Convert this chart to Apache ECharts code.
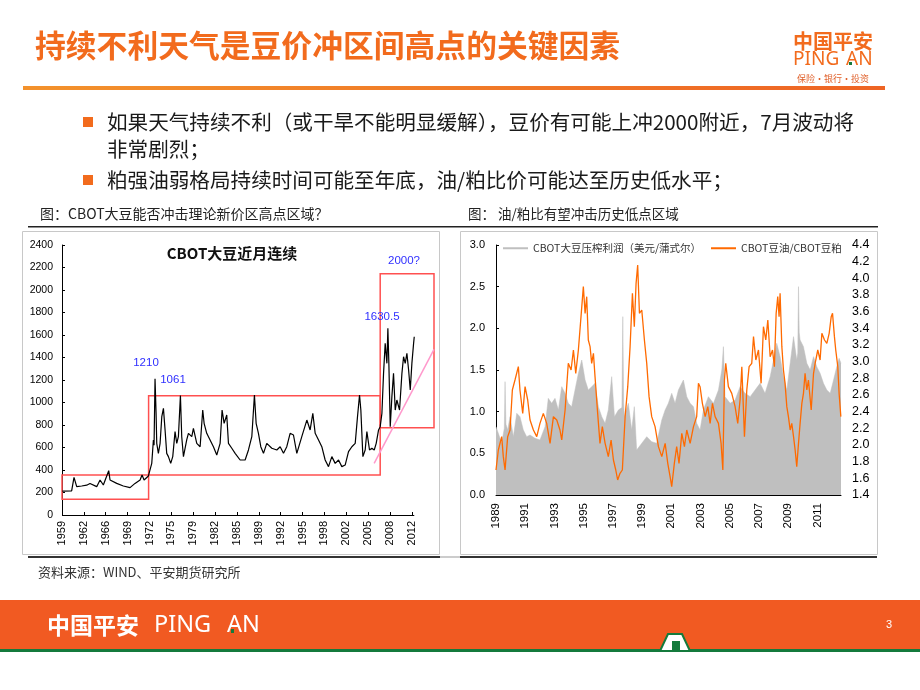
<!DOCTYPE html>
<html><head><meta charset="utf-8">
<script src="https://cdn.jsdelivr.net/npm/echarts@6/dist/echarts.min.js"></script>
<style>html,body{margin:0;padding:0;background:#fff}#c{width:920px;height:690px}</style>
</head><body><div id="c"></div>
<script>
// ---------- Left chart: CBOT soybean front-month (cents/bu) ----------
const leftTickLabels = ['1959','1962','1966','1969','1972','1975','1979','1982','1985','1989','1992','1995','1998','2002','2005','2008','2012'];
const leftYears = [1959.05,1960.47,1960.83,1961.24,1962.0,1962.76,1963.27,1964.29,1964.80,1965.30,1966.12,1966.32,1967.34,1968.35,1969.37,1970.13,1970.90,1971.20,1971.51,1972.17,1972.42,1972.68,1972.93,1973.03,1973.18,1973.34,1973.44,1973.69,1973.95,1974.21,1974.46,1974.71,1974.96,1975.22,1975.57,1975.88,1976.23,1976.49,1976.74,1977.05,1977.25,1977.51,1978.01,1978.27,1978.78,1979.03,1979.28,1979.54,1980.05,1980.45,1980.66,1981.06,1981.57,1982.08,1982.59,1983.10,1983.40,1983.71,1984.11,1984.37,1984.88,1985.39,1986.15,1986.91,1987.42,1987.93,1988.33,1988.59,1988.94,1989.30,1989.71,1990.21,1990.98,1991.74,1992.25,1992.76,1993.26,1993.77,1994.28,1994.79,1995.55,1996.32,1996.82,1997.23,1997.59,1998.10,1998.60,1999.11,1999.62,2000.13,2000.64,2001.15,2001.65,2002.16,2002.67,2003.18,2003.69,2004.04,2004.35,2004.55,2004.86,2005.21,2005.47,2005.87,2006.23,2006.59,2006.89,2007.25,2007.50,2007.76,2008.01,2008.26,2008.52,2008.67,2008.82,2009.03,2009.28,2009.53,2009.79,2010.04,2010.45,2010.81,2011.06,2011.31,2011.57,2011.83,2012.08,2012.33,2012.59,2012.69];
const leftPrices = [213,215,335,252,258,265,280,252,311,267,394,311,281,258,243,281,311,355,311,347,340,459,667,620,1210,904,637,548,637,874,948,756,548,519,459,519,741,637,696,1061,696,519,667,726,696,770,756,637,607,933,815,726,667,607,533,637,933,815,889,637,593,548,489,489,578,696,1067,815,726,607,548,637,593,578,607,548,607,726,711,548,696,844,756,904,726,667,607,489,430,519,459,489,430,444,563,607,637,874,1067,933,519,578,741,578,593,578,637,756,785,904,1259,1526,1348,1659,1348,785,1052,1259,933,1022,933,1259,1407,1348,1437,1289,1111,1348,1526,1585];
// annotation ranges [yearFrom, yearTo, priceLow, priceHigh]
const rangeBoxes = [[1959,1972.2,140,355],[1972.2,2007.5,355,1060],[2007.5,2015.7,776,2145]];
const trendLine = [[2006.58,459],[2015.7,1473]];
const peakNotes = ['1210','1061','1630.5','2000?'];

// ---------- Right chart ----------
const rightTickLabels = ['1989','1991','1993','1995','1997','1999','2001','2003','2005','2007','2009','2011'];
const marginYears = [1989.0,1989.16,1989.39,1989.57,1989.62,1989.68,1989.80,1989.96,1990.19,1990.42,1990.64,1990.87,1991.10,1991.33,1991.67,1992.01,1992.36,1992.58,1992.81,1993.04,1993.27,1993.50,1993.73,1993.95,1994.18,1994.41,1994.64,1994.87,1995.10,1995.32,1995.55,1995.78,1996.01,1996.24,1996.47,1996.69,1996.92,1997.11,1997.38,1997.62,1997.68,1997.74,1997.79,1998.06,1998.29,1998.47,1998.63,1998.98,1999.32,1999.66,2000.00,2000.35,2000.58,2000.80,2001.03,2001.26,2001.49,2001.83,2002.06,2002.29,2002.52,2002.74,2002.97,2003.20,2003.54,2003.89,2004.23,2004.46,2004.57,2004.68,2005.03,2005.37,2005.71,2006.05,2006.40,2006.74,2007.08,2007.42,2007.77,2008.00,2008.22,2008.45,2008.68,2008.91,2009.14,2009.37,2009.59,2009.66,2009.71,2009.76,2009.82,2010.05,2010.28,2010.51,2010.74,2010.96,2011.19,2011.42,2011.65,2011.88,2012.11,2012.33,2012.49,2012.62];
const marginValues = [0.82,0.74,0.62,0.80,1.36,0.85,0.78,0.94,0.70,0.98,0.94,0.78,0.70,0.72,0.68,0.66,0.82,1.16,1.10,1.16,1.02,1.30,1.22,1.10,1.06,1.26,1.46,1.62,1.38,1.26,1.30,1.34,1.06,0.94,0.86,1.02,1.42,0.94,1.02,1.05,2.14,1.10,0.94,1.10,0.78,1.06,0.54,0.62,0.70,0.64,0.62,0.90,1.02,1.10,1.22,1.10,1.26,1.38,1.18,1.10,1.06,0.86,0.78,1.02,1.18,1.10,1.26,1.50,1.78,1.18,1.10,1.14,1.30,1.22,1.18,1.26,1.34,1.22,1.42,1.62,1.82,1.66,1.42,1.26,1.58,1.90,1.62,1.70,2.50,1.95,1.86,1.78,1.58,1.50,1.66,1.54,1.46,1.34,1.26,1.22,1.38,1.54,1.64,1.58];
const ratioYears = [1989.0,1989.16,1989.39,1989.50,1989.62,1989.80,1989.96,1990.12,1990.30,1990.53,1990.64,1990.83,1990.99,1991.17,1991.33,1991.56,1991.79,1992.01,1992.24,1992.47,1992.70,1992.93,1993.16,1993.38,1993.50,1993.73,1993.95,1994.14,1994.30,1994.46,1994.64,1994.82,1994.98,1995.10,1995.21,1995.32,1995.44,1995.55,1995.67,1995.78,1995.96,1996.12,1996.28,1996.47,1996.69,1996.88,1997.04,1997.20,1997.33,1997.49,1997.65,1997.84,1998.02,1998.18,1998.34,1998.47,1998.59,1998.70,1998.82,1998.98,1999.16,1999.32,1999.48,1999.66,1999.89,2000.12,2000.35,2000.58,2000.76,2000.92,2001.03,2001.21,2001.37,2001.53,2001.72,2001.90,2002.06,2002.29,2002.52,2002.74,2002.86,2002.97,2003.13,2003.32,2003.50,2003.66,2003.82,2004.00,2004.23,2004.41,2004.53,2004.64,2004.73,2004.91,2005.14,2005.37,2005.55,2005.71,2005.83,2006.01,2006.17,2006.33,2006.51,2006.63,2006.79,2006.97,2007.15,2007.31,2007.47,2007.61,2007.77,2007.93,2008.06,2008.18,2008.29,2008.38,2008.45,2008.57,2008.68,2008.79,2008.91,2009.02,2009.14,2009.25,2009.37,2009.48,2009.59,2009.71,2009.82,2009.94,2010.05,2010.16,2010.28,2010.39,2010.58,2010.74,2010.85,2011.03,2011.19,2011.31,2011.49,2011.65,2011.81,2011.95,2012.04,2012.17,2012.26,2012.40,2012.49,2012.61];
const ratioValues = [1.70,1.94,2.10,1.86,1.70,2.10,2.18,2.66,2.78,2.94,2.66,2.38,2.70,2.54,2.30,2.18,2.10,2.26,2.38,2.26,2.02,2.34,2.30,2.18,2.06,2.42,2.98,2.90,3.14,2.86,3.14,3.54,3.90,3.58,3.78,3.26,3.18,2.98,3.10,2.82,2.38,2.02,2.22,2.02,1.86,2.06,1.82,1.70,1.58,1.66,1.70,2.34,2.70,3.18,3.82,3.42,3.94,4.16,3.58,3.62,3.26,2.98,2.58,2.34,2.22,1.98,1.86,2.02,1.78,1.62,1.50,1.78,1.98,1.78,2.14,1.98,2.18,2.02,2.22,2.34,2.74,2.70,2.50,2.34,2.46,2.26,2.50,2.34,2.26,2.02,1.70,2.78,2.98,2.70,2.62,2.46,2.26,2.54,2.94,2.10,2.66,2.94,2.98,3.30,3.02,3.14,2.74,3.42,3.26,3.50,3.06,3.14,2.94,3.58,3.78,3.54,3.82,3.18,2.90,2.74,2.46,2.34,2.18,2.26,2.10,1.94,1.74,2.02,2.26,2.50,2.62,2.86,2.66,2.78,2.42,2.86,2.98,3.14,3.02,3.34,3.26,3.22,3.34,3.54,3.58,3.30,3.14,2.94,2.62,2.34];

const zip = (a, b) => a.map((x, i) => [x, b[i]]);
const leftTickPos = leftTickLabels.map((_, i) => 1959 + i * 10 / 3);
const rightTickPos = rightTickLabels.map(Number);
const lastYear = leftYears[leftYears.length - 1];

const LAT = '"Liberation Sans", Arial, sans-serif';
const CJK = '"Noto Sans CJK SC", sans-serif';
function T(text, x, y, size, color, extra) {
  const e = Object.assign({weight: 'normal', family: CJK, align: 'left'}, extra || {});
  return {type: 'text', silent: true, z: 10, style: {text: text, x: x, y: y, fill: color,
    font: e.weight + ' ' + size + 'px ' + e.family, textAlign: e.align, textVerticalAlign: 'middle'}};
}
function R(x, y, w, h, fill, stroke, lw, z) {
  return {type: 'rect', silent: true, z: z || 1, shape: {x: x, y: y, width: w, height: h},
    style: {fill: fill || 'none', stroke: stroke || null, lineWidth: lw || 0}};
}
const ORANGE = '#F26B1D';
const graphics = [
  T('持续不利天气是豆价冲区间高点的关键因素', 35, 45, 30.8, ORANGE, {weight: 'bold'}),
  T('中国平安', 793, 41, 20, ORANGE, {weight: 'bold'}),
  T('PING', 793, 60, 19, ORANGE, {family: '"Noto Sans", sans-serif'}),
  T('AN', 846, 60, 19, ORANGE, {family: '"Noto Sans", sans-serif'}),
  R(849, 62, 3, 3, '#147A3C', null, 0, 12),
  T('保险·银行·投资', 833, 79, 9, '#E0602A', {align: 'center'}),
  {type: 'rect', silent: true, shape: {x: 23, y: 86, width: 862, height: 4},
   style: {fill: new echarts.graphic.LinearGradient(0, 0, 1, 0, [{offset: 0, color: '#F3922C'}, {offset: 1, color: '#EE6424'}])}},
  R(83, 117, 10, 10, ORANGE),
  T('如果天气持续不利（或干旱不能明显缓解），豆价有可能上冲2000附近，7月波动将', 107, 122, 20.6, '#1a1a1a'),
  T('非常剧烈；', 107, 149, 20.6, '#1a1a1a'),
  R(83, 175, 10, 10, ORANGE),
  T('粕强油弱格局持续时间可能至年底，油/粕比价可能达至历史低水平；', 107, 180, 20.6, '#1a1a1a'),
  T('图：CBOT大豆能否冲击理论新价区高点区域？', 40, 214, 14, '#222'),
  T('图： 油/粕比有望冲击历史低点区域', 468, 214, 13.5, '#222'),
  R(28, 226, 850, 1.5, '#222'),
  R(22.5, 231.5, 417, 323, 'none', '#C8C8C8', 1),
  R(460.5, 231.5, 417, 323, 'none', '#C8C8C8', 1),
  R(28, 556, 412, 2, '#333'),
  R(440, 556, 20, 2, '#CCCCCC'),
  R(460, 556, 417, 2, '#333'),
  T('CBOT大豆近月连续', 232, 253, 15, '#111', {weight: 'bold', align: 'center'}),
  T(peakNotes[0], 146, 363, 11.5, '#3030FF', {family: LAT, align: 'center'}),
  T(peakNotes[1], 173, 380, 11.5, '#3030FF', {family: LAT, align: 'center'}),
  T(peakNotes[2], 382, 317, 11.5, '#3030FF', {family: LAT, align: 'center'}),
  T(peakNotes[3], 404, 261, 11.5, '#3030FF', {family: LAT, align: 'center'}),
  T('资料来源：WIND、平安期货研究所', 38, 572, 13, '#333'),
  R(0, 600, 920, 49, '#F15A22'),
  R(0, 649, 920, 3, '#147A3C'),
  {type: 'polygon', silent: true, z: 5, shape: {points: [[660, 651], [668, 634], [682, 634], [690, 651]]},
   style: {fill: '#fff', stroke: '#147A3C', lineWidth: 2}},
  R(672, 641, 8, 9, '#147A3C', null, 0, 6),
  T('中国平安', 47, 625, 23, '#fff', {weight: 'bold'}),
  T('PING', 154, 625, 23.5, '#fff', {family: '"Noto Sans", sans-serif'}),
  T('AN', 227, 625, 23.5, '#fff', {family: '"Noto Sans", sans-serif'}),
  R(231, 629, 3, 4, '#147A3C', null, 0, 12),
  T('3', 886, 625, 11, '#fff', {family: LAT})
];

const chart = echarts.init(document.getElementById('c'));
chart.setOption({
  animation: false,
  textStyle: {fontFamily: LAT},
  grid: [{left: 62, top: 245, width: 372, height: 270}, {left: 496, top: 245, width: 345, height: 250}],
  legend: {
    data: ['CBOT大豆压榨利润（美元/蒲式尔）', 'CBOT豆油/CBOT豆粕'], left: 503, top: 243, padding: 0,
    icon: 'rect', itemWidth: 25, itemHeight: 2, itemGap: 10,
    textStyle: {fontFamily: CJK, fontSize: 10.5, color: '#333'}
  },
  xAxis: [
    {gridIndex: 0, type: 'value', min: 1959, max: 2015.7, axisLine: {show: false}, splitLine: {show: false},
     axisTick: {show: true, inside: true, length: 3, customValues: leftTickPos, lineStyle: {color: '#000'}},
     axisLabel: {customValues: leftTickPos, rotate: 90, fontSize: 11, color: '#000', margin: 6,
       formatter: v => leftTickLabels[Math.round((v - 1959) * 0.3)]}},
    {gridIndex: 1, type: 'value', min: 1989, max: 2012.62, axisLine: {show: true, lineStyle: {color: '#000'}},
     axisTick: {show: false}, splitLine: {show: false},
     axisLabel: {customValues: rightTickPos, rotate: 90, fontSize: 11.5, color: '#000', margin: 8,
       formatter: v => String(Math.round(v))}}
  ],
  yAxis: [
    {gridIndex: 0, type: 'value', min: 0, max: 2400, interval: 200, splitLine: {show: false},
     axisLine: {show: true, lineStyle: {color: '#000'}}, axisTick: {show: true, inside: true, length: 3, lineStyle: {color: '#000'}},
     axisLabel: {fontSize: 10.5, color: '#000', margin: 9, formatter: v => String(v)}},
    {gridIndex: 1, type: 'value', position: 'left', min: 0, max: 3, interval: 0.5, splitLine: {show: false},
     axisLine: {show: true, lineStyle: {color: '#000'}}, axisTick: {show: true, inside: true, length: 3, lineStyle: {color: '#000'}},
     axisLabel: {fontSize: 11, color: '#000', margin: 11, formatter: v => v.toFixed(1)}},
    {gridIndex: 1, type: 'value', position: 'right', min: 1.4, max: 4.4, interval: 0.2, splitLine: {show: false},
     axisLine: {show: false}, axisTick: {show: false},
     axisLabel: {fontSize: 12.5, color: '#000', margin: 11, formatter: v => v.toFixed(1)}}
  ],
  series: [
    {type: 'line', name: 'CBOT大豆近月连续', xAxisIndex: 0, yAxisIndex: 0, data: zip(leftYears, leftPrices),
     symbol: 'none', lineStyle: {color: '#000', width: 1.2}, itemStyle: {color: '#000'}, clip: false, z: 3,
     markArea: {silent: true, itemStyle: {color: 'rgba(0,0,0,0)', borderColor: '#FF5050', borderWidth: 1.5},
       data: rangeBoxes.map(b => [{coord: [b[0], b[2]]}, {coord: [b[1], b[3]]}])},
     markLine: {silent: true, symbol: ['none', 'none'], label: {show: false}, animation: false,
       data: [
         [{coord: trendLine[0], lineStyle: {color: '#FF99CC', width: 1.5, type: 'solid'}}, {coord: trendLine[1]}],
         [{coord: [1959, 0], lineStyle: {color: '#000', width: 1, type: 'solid'}}, {coord: [lastYear, 0]}]
       ]}},
    {type: 'line', name: 'CBOT大豆压榨利润（美元/蒲式尔）', xAxisIndex: 1, yAxisIndex: 1, data: zip(marginYears, marginValues),
     symbol: 'none', lineStyle: {color: '#BFBFBF', width: 0.5}, itemStyle: {color: '#BFBFBF'},
     areaStyle: {color: '#BFBFBF', opacity: 1}, z: 2},
    {type: 'line', name: 'CBOT豆油/CBOT豆粕', xAxisIndex: 1, yAxisIndex: 2, data: zip(ratioYears, ratioValues),
     symbol: 'none', lineStyle: {color: '#FF6A00', width: 1.3}, itemStyle: {color: '#FF6A00'}, z: 3}
  ],
  graphic: graphics
});
</script></body></html>
